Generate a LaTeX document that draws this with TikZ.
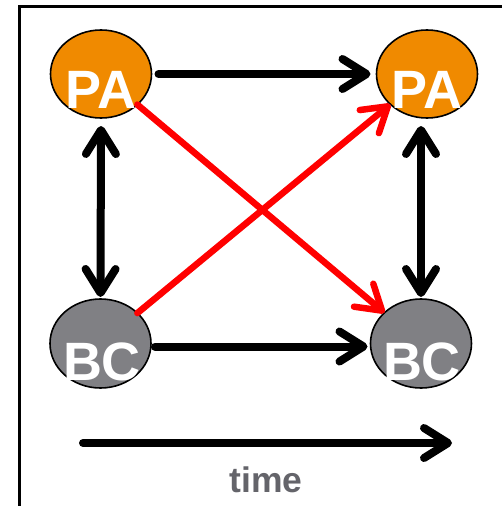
\documentclass[tikz,border=0pt]{standalone}
\usepackage{fontspec}
\setmainfont{Liberation Sans}
\usetikzlibrary{arrows.meta,shapes.geometric}
\definecolor{paorange}{RGB}{240,138,0}
\definecolor{bcgrey}{RGB}{128,128,132}
\definecolor{timegrey}{RGB}{100,100,106}
\definecolor{linkred}{RGB}{255,0,0}

\tikzset{
  barb/.tip={Straight Barb[length=24pt,width=30pt,round]},
  state/.style={draw=black, line width=1.6pt, shape=ellipse, inner sep=0pt, outer sep=0pt},
  pastate/.style={state, fill=paorange, minimum width=101pt, minimum height=88pt},
  bcstate/.style={state, fill=bcgrey, minimum width=101pt, minimum height=89pt},
  lbl/.style={text=white, font=\fontsize{54}{54}\selectfont\bfseries, anchor=base, inner sep=0pt},
  timelbl/.style={text=timegrey, font=\fontsize{35.5}{35.5}\selectfont\bfseries, anchor=base, inner sep=0pt},
  shadowed/.style={preaction={draw=black, draw opacity=0.2, transform canvas={shift={(1.5pt,-2.5pt)}}}},
  blkline/.style={draw=black, line width=8pt, line cap=round, shadowed},
  blk/.style={blkline, -barb},
  blkboth/.style={blkline, barb-barb},
  redarrow/.style={draw=linkred, line width=6.5pt, line cap=round, shadowed, -barb},
}

\begin{document}
\begin{tikzpicture}[x=1pt,y=-1pt]
  \useasboundingbox (0,0) rectangle (502,506);

  % frame (only the top and left edges fall inside the page)
  \draw[line width=2.2pt] (19.5,530) -- (19.5,6.5) -- (530,6.5);

  % states
  \node[pastate] (pa1) at (101,74) {};
  \node[pastate] (pa2) at (427,74) {};
  \node[bcstate] (bc1) at (100.5,343.5) {};
  \node[bcstate] (bc2) at (421,343.5) {};

  % transitions over time
  \draw[blk, shorten <=7pt, shorten >=6pt] (pa1.east) -- (pa2.west);
  \draw[blk, shorten <=4pt, shorten >=3pt] ([yshift=-3pt]bc1.east) -- ([yshift=-3pt]bc2.west);

  % links within each time step
  \draw[blkboth, shorten <=8pt, shorten >=2pt] (pa1.south) -- (bc1.north);
  \draw[blkboth, shorten <=8pt, shorten >=2pt] (bc2.north |- pa2.south) -- (bc2.north);

  % cross links
  \draw[redarrow] (pa1) -- (bc2);
  \draw[redarrow] (bc1) -- (pa2);

  % labels
  \node[lbl] (pa1lbl) at (101,108) {PA};
  \node[lbl] (pa2lbl) at (427,108) {PA};
  \node[lbl] (bc1lbl) at (102,380) {BC};
  \node[lbl] (bc2lbl) at (422,380) {BC};

  % time axis
  \coordinate (t0) at (83,443);
  \coordinate (t1) at (452,443);
  \draw[blk] (t0) -- (t1);
  \node[timelbl] (time) at (266,492) {time};
\end{tikzpicture}
\end{document}
